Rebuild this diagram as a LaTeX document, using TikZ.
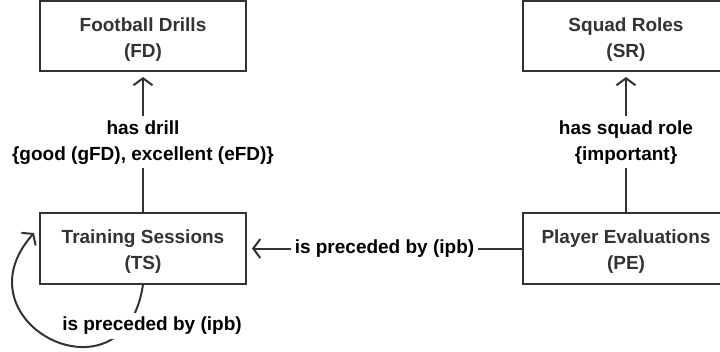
\documentclass[tikz,border=0pt]{standalone}
\usepackage{fontspec}
\setmainfont{Liberation Sans}
\usetikzlibrary{arrows.meta,calc}
\definecolor{ink}{HTML}{333333}
\begin{document}
\begin{tikzpicture}[x=1pt,y=1pt,
  box/.style={draw=ink,line width=2pt,minimum width=206pt,minimum height=70pt,inner sep=0pt},
  boxtxt/.style={align=center,text=ink,font=\bfseries\fontsize{19}{26}\selectfont,
    inner sep=0pt,yshift=-3.5pt},
  lbl/.style={fill=white,align=center,text=black,
    font=\bfseries\fontsize{19}{26}\selectfont,inner sep=4pt},
  conn/.style={draw=ink,line width=2pt,
    -{Straight Barb[length=7pt,width=19pt]}}]
\useasboundingbox (0,0) rectangle (720,351);
\clip (0,0) rectangle (720,351);
\node[box,label={[boxtxt]center:{Football Drills\\(FD)}}] (FD) at (143,315) {};
\node[box,label={[boxtxt]center:{Training Sessions\\(TS)}}] (TS) at (143,102.5) {};
\node[box,label={[boxtxt]center:{Squad Roles\\(SR)}}] (SR) at (626,315) {};
\node[box,label={[boxtxt]center:{Player Evaluations\\(PE)}}] (PE) at (626,102.5) {};
\draw[conn,shorten >=5pt] (TS) -- node[lbl] (lFD) {has drill\\\{good (gFD), excellent (eFD)\}} (FD);
\draw[conn,shorten >=5pt] (PE) -- node[lbl] (lSR) {has squad role\\\{important\}} (SR);
\draw[conn,shorten >=5pt] (PE) -- node[lbl] (lPE) {is preceded by (ipb)} (TS);
\coordinate (loopend) at ($(TS.west)+(-5,15.5)$);
\draw[conn] (TS.south) .. controls +(-18,-125) and +(-80,-90) .. (loopend);
\node[lbl] (lTS) at (152,25) {is preceded by (ipb)};
\end{tikzpicture}
\end{document}
